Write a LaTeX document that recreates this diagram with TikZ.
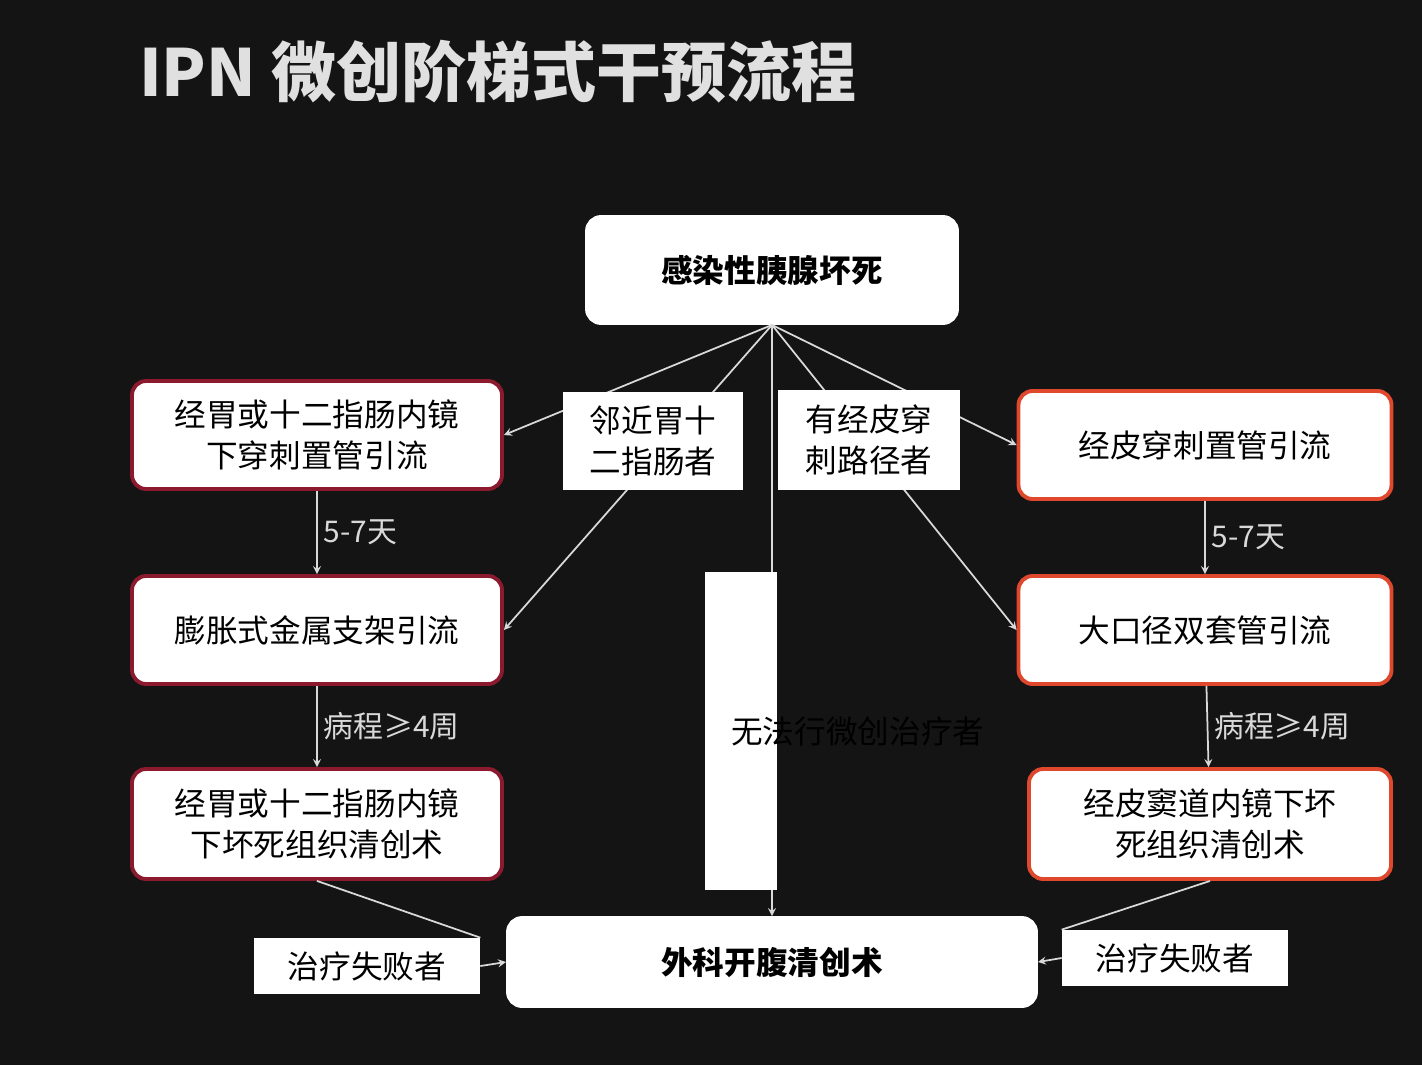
\documentclass[tikz,border=0pt]{standalone}
\usepackage{fontspec}
\setmainfont{Noto Sans CJK SC}
\usepackage{tikz}
\usetikzlibrary{positioning}
\definecolor{bg}{HTML}{141414}
\definecolor{leftred}{HTML}{8C1A2E}
\definecolor{rightred}{HTML}{E0482E}
\tikzset{
  box/.style={draw, line width=2.2pt, rounded corners=8pt, fill=white, align=center,
    font=\fontsize{18}{23}\selectfont},
  lbox/.style={box, draw=leftred},
  rbox/.style={box, draw=rightred},
  tag/.style={fill=white, align=center, inner sep=3pt, font=\fontsize{18}{23}\selectfont},
  note/.style={text=white!85!black, font=\fontsize{17}{20}\selectfont, right},
  link/.style={draw=white!85!black, line width=1pt},
}
\begin{document}
\begin{tikzpicture}[x=0.02cm, y=-0.02cm, >=stealth]
\fill[bg] (0,0) rectangle (1422,1065);

\node [text=white!88!black, font=\fontsize{37}{40}\selectfont\bfseries, anchor=west] (title) at (133,72) {IPN 微创阶梯式干预流程};

\node [box, draw=white, minimum width=370*0.02cm, minimum height=106*0.02cm, font=\fontsize{18}{23}\selectfont\bfseries] (start) at (772,270) {感染性胰腺坏死};

\node [lbox, minimum width=370*0.02cm, minimum height=108*0.02cm] (left-1) at (317,435) {经胃或十二指肠内镜\\下穿刺置管引流};
\node [lbox, minimum width=370*0.02cm, minimum height=108*0.02cm] (left-2) at (317,630) {膨胀式金属支架引流};
\node [lbox, minimum width=370*0.02cm, minimum height=110*0.02cm] (left-3) at (317,824) {经胃或十二指肠内镜\\下坏死组织清创术};

\node [rbox, minimum width=373*0.02cm, minimum height=108*0.02cm] (right-1) at (1205,445) {经皮穿刺置管引流};
\node [rbox, minimum width=373*0.02cm, minimum height=108*0.02cm] (right-2) at (1205,630) {大口径双套管引流};
\node [rbox, minimum width=362*0.02cm, minimum height=110*0.02cm] (right-3) at (1210,824) {经皮窦道内镜下坏\\死组织清创术};

\node [box, draw=white, minimum width=528*0.02cm, minimum height=88*0.02cm, font=\fontsize{18}{23}\selectfont\bfseries] (surgery) at (772,962) {外科开腹清创术};

% branches from the top box
\draw [link, ->] (start.south) -- (left-1.east);
\draw [link, ->] (start.south) -- (left-2.east);
\draw [link, ->] (start.south) -- (right-1.west);
\draw [link, ->] (start.south) -- (right-2.west);
\draw [link, ->] (start.south) -- (surgery.north);

\node [tag, minimum width=180*0.02cm, minimum height=98*0.02cm] (near) at (653,441) {邻近胃十\\二指肠者};
\node [tag, minimum width=182*0.02cm, minimum height=100*0.02cm] (skin) at (869,440) {有经皮穿\\刺路径者};
\node [tag, minimum width=72*0.02cm, minimum height=318*0.02cm, text width=1.1em] (none) at (741,731) {无法行微创治疗者};

% steps on each side
\draw [link, ->] (left-1) -- node [note] {5-7天} (left-2);
\draw [link, ->] (left-2) -- node [note] {病程≥4周} (left-3);
\draw [link, ->] (right-1) -- node [note] {5-7天} (right-2);
\draw [link, ->] (right-2) -- node [note] {病程≥4周} (right-3);

% failures
\node [tag, minimum width=226*0.02cm, minimum height=56*0.02cm] (fail-l) at (367,966) {治疗失败者};
\node [tag, minimum width=226*0.02cm, minimum height=56*0.02cm] (fail-r) at (1175,958) {治疗失败者};
\draw [link] (left-3.south) -- (fail-l.north east);
\draw [link, ->] (fail-l.east) -- (surgery.west);
\draw [link] (right-3.south) -- (fail-r.north west);
\draw [link, ->] (fail-r.west) -- (surgery.east);
\end{tikzpicture}
\end{document}
